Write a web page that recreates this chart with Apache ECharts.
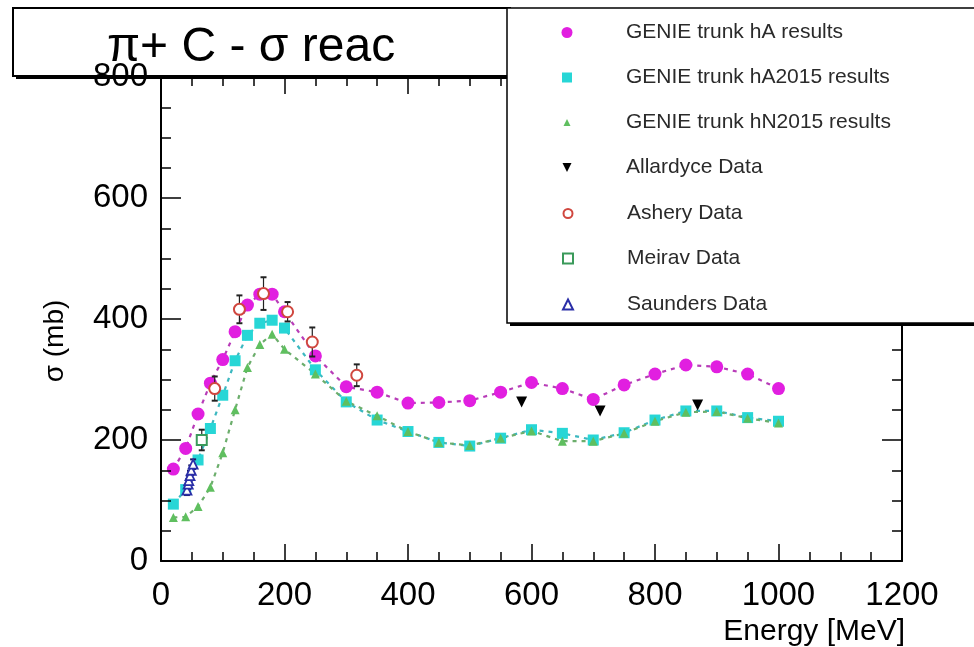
<!DOCTYPE html>
<html><head><meta charset="utf-8">
<script src="https://cdn.jsdelivr.net/npm/echarts@6/dist/echarts.min.js"></script>
<style>html,body{margin:0;padding:0;background:#fff;}#c{width:974px;height:647px;}</style>
</head><body><div id="c"></div>
<script>
// ---- data ----
const genieEnergy = [20,40,60,80,100,120,140,160,180,200,250,300,350,400,450,500,550,600,650,700,750,800,850,900,950,1000];
const hA      = [152,186,243,294,333,379,423,441,441,412,339,288,279,261,262,265,279,295,285,267,291,309,324,321,309,285];
const hA2015  = [94,118,167,219,274,331,373,393,398,385,316,263,233,214,196,190,203,217,211,200,212,233,248,248,237,231];
const hN2015  = [72,73,90,122,179,250,320,358,375,350,309,264,240,214,196,191,203,215,198,198,211,231,246,247,236,228];
const allardyceE = [584,711,869];
const allardyceSigma = [263,248,258];
const asheryE = [87,127,166,205,245,317];
const asherySigma = [285,416,442,412,362,307];
const asheryErr = [20,23,27,16,24,18];
const meiravE = [66];
const meiravSigma = [200];
const meiravErr = [17];
const saundersE = [42,44,45,47,49,52];
const saundersSigma = [117,127,133,141,150,160];
const saundersErr = [8,8,8,8,8,8];
const seriesNames = ['GENIE trunk hA results','GENIE trunk hA2015 results','GENIE trunk hN2015 results','Allardyce Data','Ashery Data','Meirav Data','Saunders Data'];
const xMin = 0, xMax = 1200, xStep = 200;
const yMin = 0, yMax = 800, yStep = 200;
const titleText = 'π+ C - σ reac';
const xTitle = 'Energy [MeV]';
const yTitle = 'σ (mb)';

// ---- helpers ----
const pair = (xs, ys) => xs.map((x, i) => [x, ys[i]]);
const triple = (xs, ys, es) => xs.map((x, i) => [x, ys[i], es[i]]);
const FONT = 'Liberation Sans, Arial, Helvetica, sans-serif';

function errRender(color) {
  return function (params, api) {
    const x = api.value(0), y = api.value(1), e = api.value(2);
    const top = api.coord([x, y + e]);
    const bot = api.coord([x, y - e]);
    const w = 3;
    return {
      type: 'group',
      children: [
        {type: 'line', shape: {x1: top[0], y1: top[1], x2: bot[0], y2: bot[1]}, style: {stroke: color, lineWidth: 1.2}},
        {type: 'line', shape: {x1: top[0]-w, y1: top[1], x2: top[0]+w, y2: top[1]}, style: {stroke: color, lineWidth: 2}},
        {type: 'line', shape: {x1: bot[0]-w, y1: bot[1], x2: bot[0]+w, y2: bot[1]}, style: {stroke: color, lineWidth: 2}}
      ]
    };
  };
}

const cMag = '#e11fe0', cCyan = '#27d6d6', cGreen = '#5fbf5f';
const plainNum = v => String(v);

function axisCommon(extra) {
  return Object.assign({
    type: 'value',
    axisLine: {show: true, onZero: false, lineStyle: {color: '#000', width: 2}},
    splitLine: {show: false},
    minorSplitLine: {show: false}
  }, extra);
}

const xTick = {show: true, inside: true, length: 17, lineStyle: {color: '#000', width: 1.5}};
const xMinor = {show: true, splitNumber: 4, length: 9, lineStyle: {color: '#000', width: 1.5}};

const legendSpec = [
  {w: 11, h: 11}, {w: 10, h: 10}, {w: 7, h: 7}, {w: 9, h: 9, icon: 'path://M0,0 L10,0 L5,10 Z'}, {w: 9, h: 9}, {w: 10, h: 10}, {w: 10, h: 10}
];
const legendCenters = [32, 77, 122, 167, 213, 258, 304];
const legends = seriesNames.map((n, i) => {
  const s = legendSpec[i];
  const left = 567 - s.w / 2;
  const item = s.icon ? {name: n, icon: s.icon, itemStyle: {color: '#000'}} : n;
  return {
    data: [item], orient: 'vertical', left: left, top: legendCenters[i] - 10,
    itemWidth: s.w, itemHeight: s.h, itemGap: 0, z: 30,
    selectedMode: false, padding: 0,
    textStyle: {fontFamily: FONT, fontSize: 21, color: '#2a2a2a', lineHeight: 20,
      padding: [0, 0, 0, 626 - (left + s.w + 5)]}
  };
});

const option = {
  animation: false,
  backgroundColor: '#fff',
  title: {
    text: titleText, left: 107, top: 24, z: 30, padding: 0,
    textStyle: {fontFamily: FONT, fontSize: 48, fontWeight: 'normal', color: '#000'}
  },
  legend: legends,
  graphic: [
    {type: 'rect', z: 20, shape: {x: 16, y: 11, width: 497, height: 68}, style: {fill: '#000'}},
    {type: 'rect', z: 21, shape: {x: 13, y: 8, width: 497, height: 68}, style: {fill: '#fff', stroke: '#000', lineWidth: 2}},
    {type: 'rect', z: 22, shape: {x: 510, y: 11, width: 480, height: 315}, style: {fill: '#000'}},
    {type: 'rect', z: 23, shape: {x: 507, y: 8, width: 480, height: 315}, style: {fill: '#fff', stroke: '#000', lineWidth: 1.5}}
  ],
  grid: {left: 161, right: 72, top: 77, bottom: 86, containLabel: false, show: false},
  xAxis: [
    axisCommon({
      position: 'bottom', min: xMin, max: xMax, interval: xStep,
      axisTick: xTick, minorTick: xMinor,
      axisLabel: {show: true, margin: 18, fontFamily: FONT, fontSize: 33, color: '#000', formatter: plainNum},
      name: xTitle, nameLocation: 'end', nameGap: 3,
      nameTextStyle: {fontFamily: FONT, fontSize: 30, color: '#000', align: 'right', verticalAlign: 'top', padding: [56, 0, 0, 0]}
    }),
    axisCommon({
      position: 'top', min: xMin, max: xMax, interval: xStep,
      axisTick: xTick, minorTick: xMinor, axisLabel: {show: false}
    })
  ],
  yAxis: [
    axisCommon({
      position: 'left', min: yMin, max: yMax, interval: yStep, z: 25,
      axisTick: {show: true, inside: true, length: 20, lineStyle: {color: '#000', width: 1.5}},
      minorTick: {show: true, splitNumber: 4, length: 10, lineStyle: {color: '#000', width: 1.5}},
      axisLabel: {show: true, margin: 13, fontFamily: FONT, fontSize: 33, color: '#000', formatter: plainNum},
      name: yTitle, nameLocation: 'middle', nameGap: 92, nameRotate: 90,
      nameTextStyle: {fontFamily: FONT, fontSize: 28, color: '#000', padding: [0, 44, 0, 0]}
    }),
    axisCommon({
      position: 'right', min: yMin, max: yMax, interval: yStep,
      axisTick: {show: true, inside: true, length: 20, lineStyle: {color: '#000', width: 1.5}},
      minorTick: {show: true, splitNumber: 4, length: 10, lineStyle: {color: '#000', width: 1.5}},
      axisLabel: {show: false}
    })
  ],
  series: [
    {type: 'line', data: pair(genieEnergy, hA), showSymbol: false, silent: true, z: 3,
      lineStyle: {color: '#b83cb8', width: 2.2, type: [4, 5]}},
    {type: 'line', data: pair(genieEnergy, hA2015), showSymbol: false, silent: true, z: 3,
      lineStyle: {color: '#3cb8c0', width: 2.2, type: [4, 5]}},
    {type: 'line', data: pair(genieEnergy, hN2015), showSymbol: false, silent: true, z: 3,
      lineStyle: {color: '#6cae6c', width: 2.2, type: [4, 5]}},
    {name: seriesNames[0], type: 'scatter', data: pair(genieEnergy, hA), symbol: 'circle', symbolSize: 13, z: 4,
      itemStyle: {color: cMag, opacity: 1}},
    {name: seriesNames[1], type: 'scatter', data: pair(genieEnergy, hA2015), symbol: 'rect', symbolSize: 11, z: 4,
      itemStyle: {color: cCyan, opacity: 1}},
    {name: seriesNames[2], type: 'scatter', data: pair(genieEnergy, hN2015), symbol: 'triangle', symbolSize: 9, z: 4,
      itemStyle: {color: cGreen, opacity: 1}},
    {name: seriesNames[3], type: 'scatter', data: pair(allardyceE, allardyceSigma), symbol: 'triangle', symbolRotate: 180, symbolSize: 11, z: 6,
      itemStyle: {color: '#000', opacity: 1}},
    {type: 'custom', data: triple(asheryE, asherySigma, asheryErr), renderItem: errRender('#222'), z: 5, silent: true},
    {name: seriesNames[4], type: 'scatter', data: pair(asheryE, asherySigma), symbol: 'circle', symbolSize: 11, z: 6,
      itemStyle: {color: '#fff', borderColor: '#d0473f', borderWidth: 2, opacity: 1}},
    {type: 'custom', data: triple(meiravE, meiravSigma, meiravErr), renderItem: errRender('#222'), z: 5, silent: true},
    {name: seriesNames[5], type: 'scatter', data: pair(meiravE, meiravSigma), symbol: 'rect', symbolSize: 10, z: 6,
      itemStyle: {color: '#fff', borderColor: '#3a9a5a', borderWidth: 2, opacity: 1}},
    {type: 'custom', data: triple(saundersE, saundersSigma, saundersErr), renderItem: errRender('#1a1a60'), z: 5, silent: true},
    {name: seriesNames[6], type: 'scatter', data: pair(saundersE, saundersSigma), symbol: 'triangle', symbolSize: 9, z: 6,
      itemStyle: {color: '#fff', borderColor: '#2b2fa8', borderWidth: 1.8, opacity: 1}}
  ]
};
const chart = echarts.init(document.getElementById('c'), null, {renderer: 'canvas'});
chart.setOption(option);
</script></body></html>
